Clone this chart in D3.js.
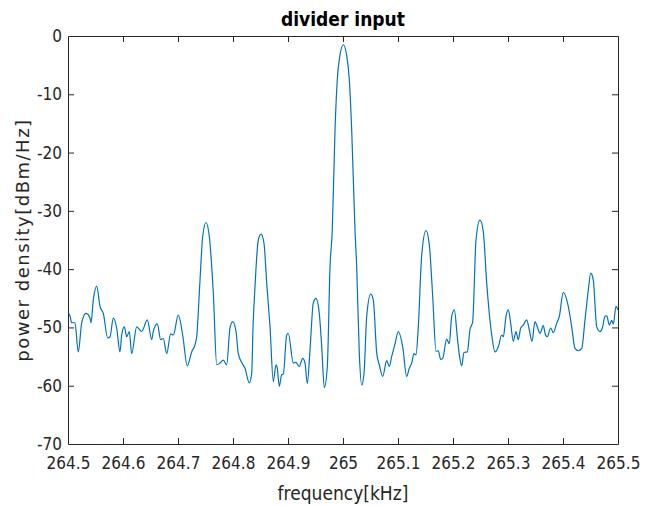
<!DOCTYPE html>
<html>
<head>
<meta charset="utf-8">
<script src="https://cdn.jsdelivr.net/npm/d3@7"></script>
<style>
  body { margin: 0; background: #fff; }
  text { fill: #262626; }
</style>
</head>
<body>
<div class="canvas"></div>
<script>
// spectrum data (kHz, dBm/Hz)
const freq = [
  264.5005, 264.5036, 264.5067, 264.5127, 264.5187, 264.5249, 264.5327, 264.5400, 264.5418, 264.5460,
  264.5522, 264.5582, 264.5642, 264.5722, 264.5764, 264.5824, 264.5885, 264.5945, 264.5976, 264.6024,
  264.6067, 264.6115, 264.6158, 264.6249, 264.6340, 264.6442, 264.6522, 264.6551, 264.6624, 264.6685,
  264.6733, 264.6795, 264.6867, 264.6915, 264.7005, 264.7085, 264.7169, 264.7249, 264.7309, 264.7340,
  264.7400, 264.7449, 264.7509, 264.7569, 264.7642, 264.7704, 264.7764, 264.7824, 264.7885, 264.7945,
  264.7995, 264.8055, 264.8096, 264.8176, 264.8218, 264.8296, 264.8340, 264.8364, 264.8400, 264.8460,
  264.8509, 264.8564, 264.8613, 264.8673, 264.8733, 264.8782, 264.8805, 264.8842, 264.8885, 264.8915,
  264.8976, 264.9005, 264.9096, 264.9145, 264.9205, 264.9267, 264.9309, 264.9351, 264.9400, 264.9460,
  264.9509, 264.9569, 264.9613, 264.9660, 264.9715, 264.9764, 264.9805, 264.9855, 264.9896, 264.9945,
  265.0005, 265.0067, 265.0115, 265.0158, 265.0218, 265.0249, 265.0296, 265.0340, 265.0382, 265.0431,
  265.0504, 265.0551, 265.0613, 265.0660, 265.0722, 265.0795, 265.0842, 265.0885, 265.0945, 265.1005,
  265.1085, 265.1158, 265.1205, 265.1249, 265.1291, 265.1327, 265.1369, 265.1431, 265.1509, 265.1569,
  265.1631, 265.1691, 265.1733, 265.1776, 265.1813, 265.1885, 265.1933, 265.1976, 265.2024, 265.2078,
  265.2115, 265.2158, 265.2200, 265.2260, 265.2309, 265.2358, 265.2418, 265.2491, 265.2551, 265.2613,
  265.2660, 265.2704, 265.2764, 265.2824, 265.2885, 265.2915, 265.2964, 265.3005, 265.3049, 265.3096,
  265.3145, 265.3187, 265.3231, 265.3278, 265.3340, 265.3387, 265.3436, 265.3491, 265.3533, 265.3582,
  265.3642, 265.3673, 265.3715, 265.3776, 265.3824, 265.3885, 265.3933, 265.4005, 265.4096, 265.4158,
  265.4218, 265.4278, 265.4340, 265.4400, 265.4460, 265.4504, 265.4551, 265.4613, 265.4673, 265.4715,
  265.4764, 265.4795, 265.4842, 265.4885, 265.4915, 265.4964, 265.5000
];
const power = [
  -47.6, -48.0, -49.2, -49.2, -54.2, -49.2, -47.6, -48.4, -49.2, -45.3,
  -42.9, -46.4, -47.6, -51.8, -51.6, -48.4, -50.1, -54.2, -51.3, -49.9,
  -51.6, -50.7, -54.5, -49.9, -50.7, -48.7, -52.1, -50.7, -49.4, -52.1,
  -51.9, -54.5, -51.1, -51.3, -47.9, -51.3, -56.6, -54.2, -53.0, -51.6,
  -41.9, -34.4, -32.0, -34.4, -44.1, -56.4, -56.1, -55.6, -56.4, -50.1,
  -49.0, -50.7, -54.5, -56.3, -57.0, -59.5, -57.9, -50.0, -43.0, -35.0,
  -34.0, -35.6, -42.4, -49.9, -59.3, -56.4, -57.0, -60.1, -58.1, -58.0,
  -51.3, -51.0, -56.1, -56.0, -56.7, -55.3, -56.1, -59.6, -53.9, -45.8,
  -45.0, -47.6, -53.3, -60.3, -56.7, -39.6, -33.3, -16.1, -7.5, -3.3,
  -1.5, -3.3, -7.5, -16.1, -33.3, -39.6, -54.4, -59.9, -57.9, -48.1,
  -44.3, -45.3, -54.4, -56.4, -58.4, -55.7, -56.7, -55.0, -52.8, -50.7,
  -53.3, -58.4, -57.0, -56.1, -54.5, -54.7, -49.9, -37.6, -33.4, -35.8,
  -44.7, -54.1, -54.0, -55.5, -55.3, -52.0, -52.8, -48.1, -47.0, -51.6,
  -54.7, -56.6, -54.3, -54.2, -50.4, -49.0, -35.0, -31.6, -33.6, -42.4,
  -47.6, -51.3, -54.2, -53.3, -51.3, -51.6, -48.1, -47.0, -49.3, -52.4,
  -50.7, -52.1, -50.1, -49.6, -48.7, -50.4, -52.4, -49.0, -49.9, -51.0,
  -49.7, -51.0, -51.6, -50.1, -50.9, -49.3, -48.1, -44.0, -46.4, -49.9,
  -53.6, -54.0, -53.6, -48.7, -43.6, -40.7, -41.9, -49.9, -50.7, -50.1,
  -48.1, -48.0, -49.6, -48.8, -49.4, -46.4, -47.0
];
const xTicks = [264.5, 264.6, 264.7, 264.8, 264.9, 265, 265.1, 265.2, 265.3, 265.4, 265.5];
const yTicks = [0, -10, -20, -30, -40, -50, -60, -70];

const W = 665, H = 506;
const mLeft = 68, mRight = 618, mTop = 36, mBottom = 444;
const axisColor = '#262626';
const font = '"DejaVu Sans Condensed", "DejaVu Sans", sans-serif';

const svg = d3.select('.canvas').append('svg')
  .attr('width', W)
  .attr('height', H);

const x = d3.scaleLinear().domain([264.5, 265.5]).range([mLeft, mRight]);
const y = d3.scaleLinear().domain([-70, 0]).range([mBottom, mTop]);

// line
const pts = freq.map((f, i) => [f, power[i]]);
const line = d3.line()
  .x(d => x(d[0]))
  .y(d => y(d[1]))
  .curve(d3.curveMonotoneX);

svg.append('path')
  .datum(pts)
  .attr('d', line)
  .attr('fill', 'none')
  .attr('stroke', '#0072BD')
  .attr('stroke-width', 1.2);

// axes (ticks pointing inward, box on all four sides)
const fmt = d => String(+d.toFixed(1));
const tickLen = 6;

const xAxis = svg.append('g')
  .attr('transform', `translate(0,${mBottom})`)
  .call(d3.axisBottom(x).tickValues(xTicks).tickSizeInner(-tickLen).tickSizeOuter(0).tickPadding(13).tickFormat(fmt));
const xTop = svg.append('g')
  .attr('transform', `translate(0,${mTop})`)
  .call(d3.axisTop(x).tickValues(xTicks).tickSizeInner(-tickLen).tickSizeOuter(0).tickFormat(''));
const yAxis = svg.append('g')
  .attr('transform', `translate(${mLeft},0)`)
  .call(d3.axisLeft(y).tickValues(yTicks).tickSizeInner(-tickLen).tickSizeOuter(0).tickPadding(6).tickFormat(d => String(d)));
const yRight = svg.append('g')
  .attr('transform', `translate(${mRight},0)`)
  .call(d3.axisRight(y).tickValues(yTicks).tickSizeInner(-tickLen).tickSizeOuter(0).tickFormat(''));

[xAxis, xTop, yAxis, yRight].forEach(g => {
  g.selectAll('.domain').attr('stroke', axisColor);
  g.selectAll('.tick line').attr('stroke', axisColor);
  g.selectAll('.tick text')
    .attr('fill', axisColor)
    .style('font-family', font)
    .style('font-size', '17px');
});
// first/last tick lines sit on the box, hide duplicates
xAxis.selectAll('.tick line').filter(d => d === 264.5 || d === 265.5).remove();
xTop.selectAll('.tick line').filter(d => d === 264.5 || d === 265.5).remove();
yAxis.selectAll('.tick line').filter(d => d === 0 || d === -70).remove();
yRight.selectAll('.tick line').filter(d => d === 0 || d === -70).remove();

// labels
svg.append('text')
  .attr('x', (mLeft + mRight) / 2)
  .attr('y', 26)
  .attr('text-anchor', 'middle')
  .style('font-family', font)
  .style('font-weight', 'bold')
  .style('font-size', '19px')
  .style('fill', '#000')
  .text('divider input');

svg.append('text')
  .attr('x', (mLeft + mRight) / 2)
  .attr('y', 500)
  .attr('text-anchor', 'middle')
  .style('font-family', font)
  .style('font-size', '19px')
  .text('frequency[kHz]');

svg.append('text')
  .attr('transform', `translate(29,${(mTop + mBottom) / 2}) rotate(-90)`)
  .attr('text-anchor', 'middle')
  .style('font-family', '"DejaVu Sans", sans-serif')
  .style('font-size', '18px')
  .style('letter-spacing', '1.5px')
  .text('power density[dBm/Hz]');
</script>
</body>
</html>
